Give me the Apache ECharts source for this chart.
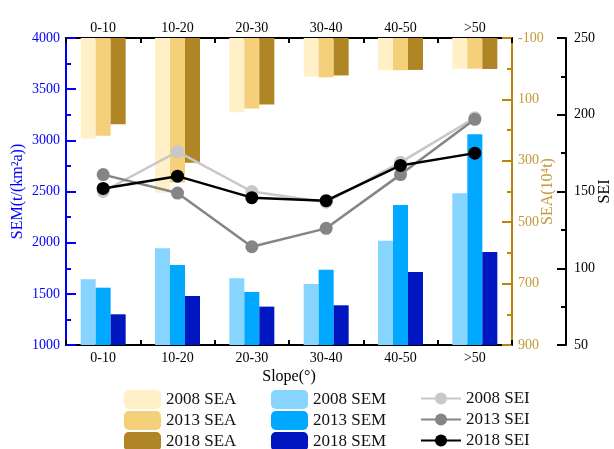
<!DOCTYPE html>
<html>
<head>
<meta charset="utf-8">
<script src="https://cdn.jsdelivr.net/npm/echarts@6/dist/echarts.min.js"></script>
<style>
  html, body { margin: 0; padding: 0; background: #fff; }
  #chart { width: 614px; height: 449px; }
</style>
</head>
<body>
<div id="chart"></div>
<script>
// Slope classes
const categories = ['0-10', '10-20', '20-30', '30-40', '40-50', '>50'];

// SEM, t/(km²a)
const sem2008 = [1642, 1945, 1652, 1596, 2019, 2482];
const sem2013 = [1560, 1782, 1518, 1736, 2368, 3059];
const sem2018 = [1300, 1479, 1375, 1388, 1713, 1909];

// SEA, 10⁴ t (bars hang from the top of the inverted axis)
const sea2008 = [227, 404, 142, 26, 5, 0];
const sea2013 = [218, 371, 130, 28, 5, 0];
const sea2018 = [181, 306, 117, 22, 4, 1];

// SEI
const sei2008 = [150, 176, 150, 143, 169, 198];
const sei2013 = [161, 149, 114, 126, 161, 197];
const sei2018 = [152, 160, 146, 144, 167, 175];

// Axis ranges [min, max, interval]
const semRange = [1000, 4000, 500];
const seaRange = [-100, 900, 200];
const seiRange = [50, 250, 50];

const FONT = 'Liberation Serif';
const BLUE = '#0000ff';
const GOLD = '#b8860b';
const GOLD_TEXT = '#c29a38';

const C = {
  sea: ['#fff0c8', '#f5d07a', '#b08525'],
  sem: ['#87d4ff', '#00a8ff', '#0016c0'],
  sei: ['#c8c8c8', '#858585', '#000000']
};

// SEA bars start from the axis top: stack each bar on a transparent base at the axis minimum
function seaSeries(name, values, color, stackId) {
  return [
    {
      type: 'bar', xAxisIndex: 1, yAxisIndex: 1, stack: stackId, stackStrategy: 'all',
      barWidth: 15, barGap: '0%', silent: true,
      itemStyle: { color: 'rgba(0,0,0,0)' },
      data: values.map(() => seaRange[0]), z: 1
    },
    {
      name: name, type: 'bar', xAxisIndex: 1, yAxisIndex: 1, stack: stackId, stackStrategy: 'all',
      barWidth: 15, barGap: '0%',
      itemStyle: { color: color },
      data: values.map(v => v - seaRange[0]), z: 1
    }
  ];
}

function semSeries(name, values, color) {
  return {
    name: name, type: 'bar', xAxisIndex: 0, yAxisIndex: 0,
    barWidth: 15, barGap: '0%',
    itemStyle: { color: color },
    data: values, z: 2
  };
}

function seiSeries(name, values, color) {
  return {
    name: name, type: 'line', xAxisIndex: 0, yAxisIndex: 2,
    symbol: 'circle', symbolSize: 13,
    lineStyle: { color: color, width: 2.5 },
    itemStyle: { color: color },
    data: values, z: 5
  };
}

const labelFont = { fontFamily: FONT, fontSize: 14, color: '#000' };
const plain = v => String(v);

function catAxis(position, showLabel, tickLen, alignWithLabel, showLine, margin) {
  return {
    type: 'category', position: position, data: categories,
    axisLine: { show: showLine, onZero: false, lineStyle: { color: '#000', width: 2 } },
    axisTick: { show: true, inside: true, length: tickLen, alignWithLabel: alignWithLabel,
                lineStyle: { color: '#000', width: 2 } },
    axisLabel: Object.assign({ show: showLabel, margin: margin }, labelFont),
    splitLine: { show: false }
  };
}

const bottomAxis = catAxis('bottom', true, 10, true, true, 6);
bottomAxis.name = 'Slope(°)';
bottomAxis.nameLocation = 'middle';
bottomAxis.nameGap = 24;
bottomAxis.nameMoveOverlap = false;
bottomAxis.nameTextStyle = { fontFamily: FONT, fontSize: 16, color: '#000' };

const legendBase = {
  orient: 'vertical', top: 390, padding: 0, itemGap: 2, height: 80,
  itemWidth: 37, itemHeight: 19,
  textStyle: { fontFamily: FONT, fontSize: 17, color: '#111' }
};

const option = {
  animation: false,
  backgroundColor: '#fff',
  textStyle: { fontFamily: FONT },
  grid: { left: 66, right: 102, top: 38, bottom: 104, containLabel: false, outerBoundsMode: 'none' },
  xAxis: [
    bottomAxis,
    catAxis('top', true, 10, true, true, 3),
    catAxis('bottom', false, 5, false, false, 6),
    catAxis('top', false, 5, false, false, 3)
  ],
  yAxis: [
    {
      type: 'value', position: 'left', min: semRange[0], max: semRange[1], interval: semRange[2],
      name: 'SEM(t/(km²a))', nameLocation: 'middle', nameGap: 40, nameRotate: 90, nameMoveOverlap: false,
      nameTextStyle: { fontFamily: FONT, fontSize: 16, color: BLUE },
      axisLine: { show: true, lineStyle: { color: BLUE, width: 2 } },
      axisTick: { show: true, inside: true, length: 10, lineStyle: { color: BLUE, width: 2 } },
      minorTick: { show: true, splitNumber: 2, length: 5, lineStyle: { color: BLUE, width: 2 } },
      axisLabel: { fontFamily: FONT, fontSize: 14, color: BLUE, margin: 6, formatter: plain },
      splitLine: { show: false }
    },
    {
      type: 'value', position: 'right', inverse: true,
      min: seaRange[0], max: seaRange[1], interval: seaRange[2],
      name: 'SEA(10⁴t)', nameLocation: 'middle', nameGap: 28, nameRotate: 90, nameMoveOverlap: false,
      nameTextStyle: { fontFamily: FONT, fontSize: 16, color: GOLD_TEXT },
      axisLine: { show: true, lineStyle: { color: GOLD, width: 2 } },
      axisTick: { show: true, inside: true, length: 10, lineStyle: { color: GOLD, width: 2 } },
      minorTick: { show: true, splitNumber: 2, length: 5, lineStyle: { color: GOLD, width: 2 } },
      axisLabel: { fontFamily: FONT, fontSize: 14, color: GOLD_TEXT, margin: 6, formatter: plain },
      splitLine: { show: false }
    },
    {
      type: 'value', position: 'right', offset: 54,
      min: seiRange[0], max: seiRange[1], interval: seiRange[2],
      name: 'SEI', nameLocation: 'middle', nameGap: 31, nameRotate: 90, nameMoveOverlap: false,
      nameTextStyle: { fontFamily: FONT, fontSize: 16, color: '#000' },
      axisLine: { show: true, lineStyle: { color: '#000', width: 2 } },
      axisTick: { show: true, inside: true, length: 9, lineStyle: { color: '#000', width: 2 } },
      minorTick: { show: true, splitNumber: 2, length: 5, lineStyle: { color: '#000', width: 2 } },
      axisLabel: { fontFamily: FONT, fontSize: 14, color: '#000', margin: 8, formatter: plain },
      splitLine: { show: false }
    }
  ],
  legend: [
    Object.assign({}, legendBase, { left: 124, data: ['2008 SEA', '2013 SEA', '2018 SEA'] }),
    Object.assign({}, legendBase, { left: 271, data: ['2008 SEM', '2013 SEM', '2018 SEM'] }),
    Object.assign({}, legendBase, {
      left: 420, itemWidth: 40, itemHeight: 15, itemGap: 4,
      data: ['2008 SEI', '2013 SEI', '2018 SEI']
    })
  ],
  series: [].concat(
    seaSeries('2008 SEA', sea2008, C.sea[0], 'a2008'),
    seaSeries('2013 SEA', sea2013, C.sea[1], 'a2013'),
    seaSeries('2018 SEA', sea2018, C.sea[2], 'a2018'),
    [
      semSeries('2008 SEM', sem2008, C.sem[0]),
      semSeries('2013 SEM', sem2013, C.sem[1]),
      semSeries('2018 SEM', sem2018, C.sem[2]),
      seiSeries('2008 SEI', sei2008, C.sei[0]),
      seiSeries('2013 SEI', sei2013, C.sei[1]),
      seiSeries('2018 SEI', sei2018, C.sei[2])
    ]
  )
};

const chart = echarts.init(document.getElementById('chart'), null, { renderer: 'canvas' });
chart.setOption(option);
</script>
</body>
</html>
